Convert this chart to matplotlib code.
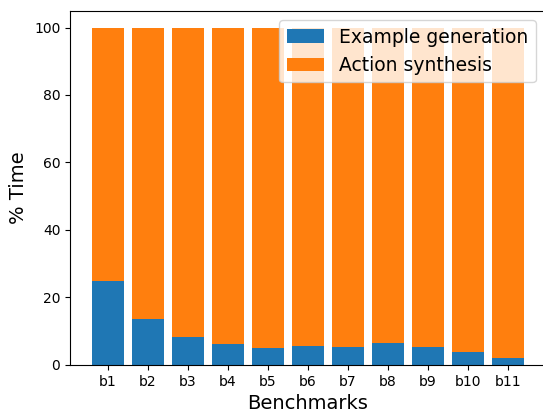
import numpy as np
import matplotlib
matplotlib.use('Agg')
import matplotlib.pyplot as plt

# benchmark names and % time spent in each phase
benchmarks = ['b1', 'b2', 'b3', 'b4', 'b5', 'b6', 'b7', 'b8', 'b9', 'b10', 'b11']
example_gen = [24.9, 13.6, 8.3, 6.2, 5.0, 5.6, 5.3, 6.5, 5.3, 3.8, 2.1]
action_syn = [100 - v for v in example_gen]

fig = plt.figure(figsize=(5.43, 4.09), dpi=100)
# right side of the axes runs slightly past the picture edge, as in the original
ax = fig.add_axes([0.129, 0.108, 0.875, 0.866])

x = np.arange(len(benchmarks))
ax.bar(x, example_gen, label='Example generation')
ax.bar(x, action_syn, bottom=example_gen, label='Action synthesis')

ax.set_xticks(x)
ax.set_xticklabels(benchmarks)
ax.set_xlabel('Benchmarks', fontsize=14)
ax.set_ylabel('% Time', fontsize=14)
ax.legend(loc='upper right', fontsize=13.5)

fig.savefig('out.png', dpi=100)
